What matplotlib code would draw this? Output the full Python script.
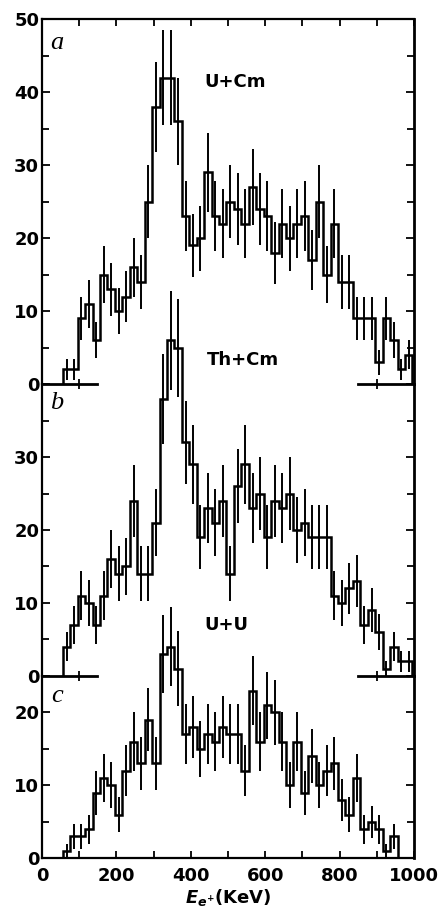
import numpy as np
import matplotlib.pyplot as plt
from matplotlib.ticker import MultipleLocator

# Phổ năng lượng positron, bin 20 keV bắt đầu từ 56 keV
start_kev = 56
bin_kev = 20

counts_a = [2, 2, 9, 11, 6, 15, 13, 10, 12, 16, 14, 25, 38, 42, 42, 36, 23, 19, 20, 29,
            23, 22, 25, 24, 22, 27, 24, 23, 18, 22, 20, 22, 23, 17, 25, 15, 22, 14, 14, 9,
            9, 9, 3, 9, 6, 2, 4]
counts_b = [4, 7, 11, 10, 7, 11, 16, 14, 15, 24, 14, 14, 21, 38, 46, 45, 32, 29, 19, 23,
            21, 24, 14, 26, 29, 23, 25, 19, 24, 23, 25, 20, 21, 19, 19, 19, 11, 10, 12, 13,
            7, 9, 6, 1, 4, 2, 2]
counts_c = [1, 3, 3, 4, 9, 11, 10, 6, 12, 16, 13, 19, 13, 28, 29, 26, 17, 18, 15, 17,
            16, 18, 17, 17, 12, 23, 16, 21, 20, 16, 10, 16, 9, 14, 10, 12, 13, 8, 6, 11,
            4, 5, 4, 1, 3]

reactions = ['U+Cm', 'Th+Cm', 'U+U']
panel_letters = ['a', 'b', 'c']
y_tops = [50, 40, 25]
y_labels = [[0, 10, 20, 30, 40, 50], [0, 10, 20, 30], [0, 10, 20]]
letter_y = [46.8, 37.4, 22.2]

plt.rcParams['font.family'] = 'DejaVu Sans'
plt.rcParams['font.weight'] = 'bold'

fig, axes = plt.subplots(3, 1, figsize=(4.38, 9.17), dpi=100,
                         gridspec_kw={'height_ratios': y_tops})
fig.subplots_adjust(left=0.096, right=0.945, top=0.979, bottom=0.064, hspace=0)

for i, (ax, counts) in enumerate(zip(axes, [counts_a, counts_b, counts_c])):
    counts = np.array(counts, dtype=float)
    edges = start_kev + bin_kev * np.arange(len(counts) + 1)
    centers = edges[:-1] + bin_kev / 2
    err = np.sqrt(counts)  # sai số thống kê Poisson

    ax.set_facecolor('none')
    ax.stairs(counts, edges, baseline=0, color='black', lw=1.8, clip_on=False, zorder=3)
    ax.vlines(centers, np.maximum(counts - err, 0), counts + err, color='black',
              lw=1.4, clip_on=False, zorder=3)

    ax.set_xlim(0, 1000)
    ax.set_ylim(0, y_tops[i])

    # khung: trái/phải dày, trên chỉ ở panel a, dưới chỉ ở panel c
    ax.spines['left'].set_linewidth(1.6)
    ax.spines['right'].set_linewidth(2.0)
    ax.spines['top'].set_visible(i == 0)
    ax.spines['top'].set_linewidth(1.6)
    ax.spines['bottom'].set_visible(i == 2)
    ax.spines['bottom'].set_linewidth(1.6)

    ax.set_yticks(y_labels[i])
    ax.yaxis.set_minor_locator(MultipleLocator(5))
    ax.tick_params(axis='y', which='both', direction='in', left=True, right=True,
                   width=1.3, labelsize=13, pad=2)
    ax.tick_params(axis='y', which='major', length=6)
    ax.tick_params(axis='y', which='minor', length=5)

    if i < 2:
        # trục 0 chỉ vẽ một đoạn ở hai đầu
        ax.plot([0, 148], [0, 0], color='black', lw=2, clip_on=False)
        ax.plot([850, 1000], [0, 0], color='black', lw=2, clip_on=False)
        ax.plot([100, 900], [0, 0], ls='none', marker='|', ms=7, mew=1.3,
                color='black', clip_on=False)

    ax.text(40, letter_y[i], panel_letters[i], family='Liberation Serif', style='italic',
            weight='normal', fontsize=19, ha='center', va='center')

axes[0].xaxis.set_major_locator(MultipleLocator(100))
axes[0].tick_params(axis='x', which='both', bottom=False, top=True, direction='in',
                    labelbottom=False, length=5, width=1.3)
axes[1].tick_params(axis='x', which='both', bottom=False, top=False, labelbottom=False)
axes[2].xaxis.set_major_locator(MultipleLocator(200))
axes[2].xaxis.set_minor_locator(MultipleLocator(100))
axes[2].tick_params(axis='x', which='both', direction='in', top=False, length=5,
                    width=1.3, labelsize=13, pad=6)

axes[0].text(520, 41.4, reactions[0], fontsize=13, weight='bold', ha='center', va='center')
axes[1].text(540, 43.3, reactions[1], fontsize=13, weight='bold', ha='center', va='center')
axes[1].text(497, 7.0, reactions[2], fontsize=13, weight='bold', ha='center', va='center')

axes[2].set_xlabel(r'$\mathbfit{E}_{\mathbfit{e}^{\mathbf{+}}}$(KeV)', fontsize=13,
                   fontweight='bold', labelpad=2)

fig.savefig('out.png', dpi=100)
